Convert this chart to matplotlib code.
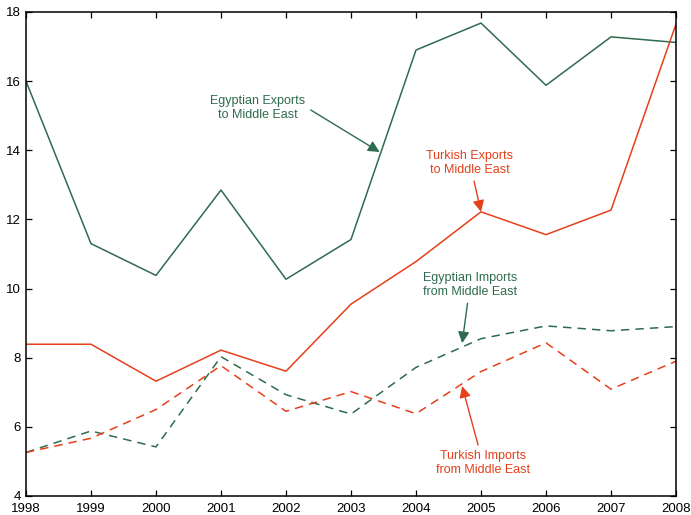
import matplotlib.pyplot as plt

plt.rcParams['font.family'] = ['Liberation Sans', 'DejaVu Sans']

# Data
years = [1998, 1999, 2000, 2001, 2002, 2003, 2004, 2005, 2006, 2007, 2008]
egypt_exports = [16.0, 11.3, 10.38, 12.85, 10.27, 11.42, 16.9, 17.68, 15.88, 17.28, 17.12]
turkey_exports = [8.39, 8.39, 7.32, 8.22, 7.61, 9.55, 10.78, 12.22, 11.56, 12.27, 17.65]
egypt_imports = [5.26, 5.88, 5.42, 8.03, 6.93, 6.37, 7.72, 8.55, 8.92, 8.78, 8.9]
turkey_imports = [5.26, 5.67, 6.5, 7.77, 6.45, 7.02, 6.38, 7.6, 8.43, 7.09, 7.9]

green = '#2f6b4e'
red = '#e5401b'

fig = plt.figure(figsize=(6.91, 5.15), dpi=100)
ax = fig.add_axes([0.0376, 0.0369, 0.9407, 0.9398])

ax.plot(years, egypt_exports, color=green, lw=1.1)
ax.plot(years, turkey_exports, color=red, lw=1.1)
ax.plot(years, egypt_imports, color=green, lw=1.1, dashes=(5.5, 4))
ax.plot(years, turkey_imports, color=red, lw=1.1, dashes=(5.5, 4))

ax.set_xlim(1998, 2008)
ax.set_ylim(4, 18)
ax.set_xticks(years)
ax.set_yticks(range(4, 19, 2))
ax.tick_params(direction='in', length=4, width=0.9, labelsize=9.5,
               top=True, right=True)
ax.tick_params(axis='x', pad=5)
for s in ax.spines.values():
    s.set_linewidth(1.1)

# Annotations
arrow = dict(arrowstyle='-|>', lw=1.0, mutation_scale=17, shrinkA=2, shrinkB=0)
txt = dict(ha='center', va='center', fontsize=9, linespacing=1.15)
ax.annotate('Egyptian Exports\nto Middle East', xy=(2003.44, 13.95),
            xytext=(2001.57, 15.22), color=green,
            arrowprops=dict(arrow, color=green, relpos=(1, 0.55)), **txt)
ax.annotate('Turkish Exports\nto Middle East', xy=(2005, 12.22),
            xytext=(2004.83, 13.63), color=red,
            arrowprops=dict(arrow, color=red), **txt)
ax.annotate('Egyptian Imports\nfrom Middle East', xy=(2004.71, 8.42),
            xytext=(2004.83, 10.1), color=green,
            arrowprops=dict(arrow, color=green), **txt)
ax.annotate('Turkish Imports\nfrom Middle East', xy=(2004.71, 7.18),
            xytext=(2005.03, 4.95), color=red,
            arrowprops=dict(arrow, color=red), **txt)

fig.savefig('out.png', dpi=100)
